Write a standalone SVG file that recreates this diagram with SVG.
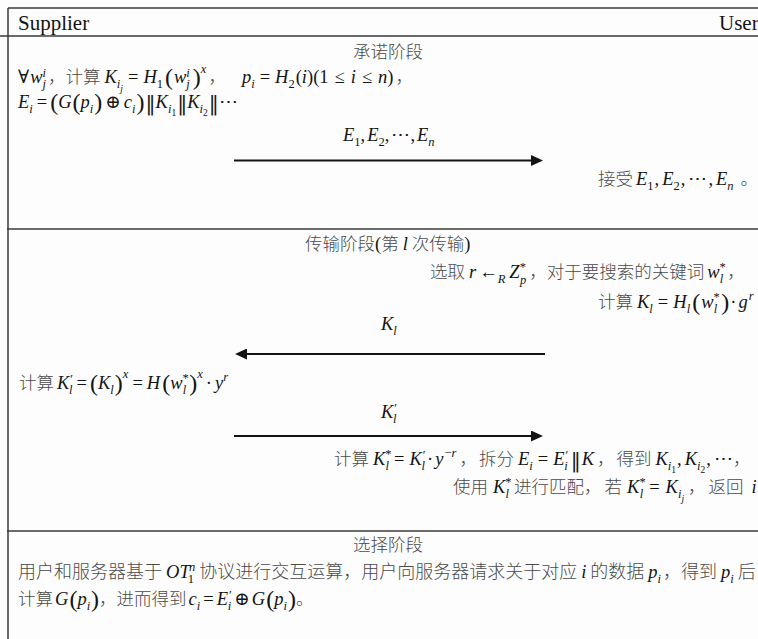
<svg xmlns="http://www.w3.org/2000/svg" width="758" height="639" viewBox="0 0 758 639">
<style>
.bg{fill:#fdfdfd}
.rule{stroke:#3a3a3a;stroke-width:1.5;fill:none}
.t{font-family:"Liberation Serif","DejaVu Serif",serif;font-size:18.5px;fill:#141414}
.zh{font-family:"Noto Sans CJK SC","Noto Sans CJK JP",sans-serif;font-size:17.5px;font-style:normal;font-weight:300;fill:#4a4a4a}
.z18{font-size:18px}
.i{font-style:italic}
.s{font-size:12.5px}
.ss{font-size:9.5px}
.bp{font-size:24px;font-style:normal}
.bar{font-family:"DejaVu Serif",serif;font-size:20px;font-style:normal}
.hd{font-family:"Liberation Serif",serif;font-size:21px;fill:#141414}
.arr{stroke:#141414;stroke-width:2;fill:none}
</style>
<defs>
<marker id="ah" markerUnits="userSpaceOnUse" markerWidth="12" markerHeight="11" refX="1" refY="5.5" orient="auto">
<path d="M0,0 L12,5.5 L0,11 z" fill="#141414"/>
</marker>
</defs>
<rect class="bg" x="0" y="0" width="758" height="639"/>
<g id="frame">
<line class="rule" x1="8" y1="8" x2="758" y2="8"/>
<line class="rule" x1="0" y1="36" x2="758" y2="36"/>
<line class="rule" x1="8" y1="8" x2="8" y2="639"/>
<line class="rule" x1="7" y1="229" x2="758" y2="229"/>
<line class="rule" x1="7" y1="531" x2="758" y2="531"/>
</g>
<g id="header">
<text class="hd" x="18" y="30">Supplier</text>
<text class="hd" x="719" y="30">User</text>
</g>
<g id="commit">
<text class="zh" x="353" y="58">承诺阶段</text>
<text class="t" x="18" y="83"><tspan>∀</tspan><tspan class="i" dx="1">w</tspan><tspan class="i s" y="77">i</tspan><tspan class="i s" dx="-3.5" y="88">j</tspan><tspan class="zh" y="83" dx="2">，计算</tspan><tspan class="i" dx="4">K</tspan><tspan class="i s" y="88">i</tspan><tspan class="i ss" y="92">j</tspan><tspan y="83" dx="5">=</tspan><tspan class="i" dx="5">H</tspan><tspan class="s" y="88">1</tspan><tspan class="bp" y="85" dx="2">(</tspan><tspan class="i" y="83" dx="1">w</tspan><tspan class="i s" y="77">i</tspan><tspan class="i s" dx="-3.5" y="88">j</tspan><tspan class="bp" y="85" dx="3">)</tspan><tspan class="i s" y="73">x</tspan><tspan class="zh" y="83" dx="2">，</tspan><tspan class="i" dx="16">p</tspan><tspan class="i s" y="88">i</tspan><tspan y="83" dx="5">=</tspan><tspan class="i" dx="5">H</tspan><tspan class="s" y="88">2</tspan><tspan y="83" dx="1">(</tspan><tspan class="i">i</tspan><tspan>)(1</tspan><tspan dx="6">≤</tspan><tspan class="i" dx="6">i</tspan><tspan dx="6">≤</tspan><tspan class="i" dx="6">n</tspan><tspan>)</tspan><tspan class="zh" dx="2">，</tspan></text>
<text class="t" x="18" y="108"><tspan class="i">E</tspan><tspan class="i s" y="113">i</tspan><tspan y="108" dx="4">=</tspan><tspan class="bp" y="110" dx="3">(</tspan><tspan class="i" y="108">G</tspan><tspan class="bp" y="110" dx="1">(</tspan><tspan class="i" y="108">p</tspan><tspan class="i s" y="113">i</tspan><tspan class="bp" y="110" dx="1">)</tspan><tspan y="108" dx="3">⊕</tspan><tspan class="i" dx="3">c</tspan><tspan class="i s" y="113">i</tspan><tspan class="bp" y="110" dx="1">)</tspan><tspan class="bar" dx="1">‖</tspan><tspan class="i" y="108">K</tspan><tspan class="i s" y="113">i</tspan><tspan class="ss" y="116">1</tspan><tspan class="bar" y="110" dx="1">‖</tspan><tspan class="i" y="108">K</tspan><tspan class="i s" y="113">i</tspan><tspan class="ss" y="116">2</tspan><tspan class="bar" y="110" dx="1">‖</tspan><tspan y="108">⋯</tspan></text>
<text class="t" x="343" y="141"><tspan class="i">E</tspan><tspan class="s" y="146">1</tspan><tspan y="141">,</tspan><tspan class="i" dx="2">E</tspan><tspan class="s" y="146">2</tspan><tspan y="141">,</tspan><tspan dx="2">⋯</tspan><tspan>,</tspan><tspan class="i" dx="2">E</tspan><tspan class="i s" y="146">n</tspan></text>
<text class="t" x="598" y="185"><tspan class="zh">接受</tspan><tspan class="i" dx="3">E</tspan><tspan class="s" y="190">1</tspan><tspan y="185" dx="1">,</tspan><tspan class="i" dx="3">E</tspan><tspan class="s" y="190">2</tspan><tspan y="185" dx="1">,</tspan><tspan dx="3">⋯</tspan><tspan dx="1">,</tspan><tspan class="i" dx="3">E</tspan><tspan class="i s" y="190">n</tspan><tspan class="zh" y="185" dx="7">。</tspan></text>
</g>
<g id="transfer">
<text class="t" x="305" y="250"><tspan class="zh">传输阶段</tspan><tspan>(</tspan><tspan class="zh">第</tspan><tspan class="i" dx="4">l</tspan><tspan class="zh" dx="4">次传输</tspan><tspan>)</tspan></text>
<text class="t" x="430" y="278"><tspan class="zh">选取</tspan><tspan class="i" dx="4">r</tspan><tspan dx="3">←</tspan><tspan class="i s" y="283">R</tspan><tspan class="i" y="278" dx="4">Z</tspan><tspan class="s" y="271">*</tspan><tspan class="i s" dx="-6" y="284">p</tspan><tspan class="zh" y="278" dx="3">，对于要搜索的关键词</tspan><tspan class="i" dx="3">w</tspan><tspan class="s" y="271">*</tspan><tspan class="i s" dx="-6" y="283">l</tspan><tspan class="zh" y="278" dx="4">，</tspan></text>
<text class="t" x="598" y="308"><tspan class="zh">计算</tspan><tspan class="i" dx="4">K</tspan><tspan class="i s" y="313">l</tspan><tspan y="308" dx="5">=</tspan><tspan class="i" dx="5">H</tspan><tspan class="i s" y="313">l</tspan><tspan class="bp" y="310" dx="2">(</tspan><tspan class="i" y="308" dx="1">w</tspan><tspan class="s" y="301">*</tspan><tspan class="i s" dx="-6" y="313">l</tspan><tspan class="bp" y="310" dx="4">)</tspan><tspan y="308" dx="1">·</tspan><tspan class="i" dx="2">g</tspan><tspan class="i s" y="300" dx="1">r</tspan></text>
<text class="t" x="381" y="330"><tspan class="i">K</tspan><tspan class="i s" y="335">l</tspan></text>
<text class="t" x="19" y="389"><tspan class="zh">计算</tspan><tspan class="i" dx="3">K</tspan><tspan class="s" y="383" dx="1">′</tspan><tspan class="i s" dx="-4" y="394">l</tspan><tspan y="389" dx="4">=</tspan><tspan class="bp" y="391" dx="3">(</tspan><tspan class="i" y="389">K</tspan><tspan class="i s" y="394">l</tspan><tspan class="bp" y="391" dx="1">)</tspan><tspan class="i s" y="378">x</tspan><tspan y="389" dx="4">=</tspan><tspan class="i" dx="4">H</tspan><tspan class="bp" y="391" dx="2">(</tspan><tspan class="i" y="389">w</tspan><tspan class="s" y="382">*</tspan><tspan class="i s" dx="-6" y="394">l</tspan><tspan class="bp" y="391" dx="3">)</tspan><tspan class="i s" y="378">x</tspan><tspan y="389" dx="3">·</tspan><tspan class="i" dx="3">y</tspan><tspan class="i s" y="381">r</tspan></text>
<text class="t" x="381" y="418"><tspan class="i">K</tspan><tspan class="s" y="412" dx="1">′</tspan><tspan class="i s" dx="-4" y="423">l</tspan></text>
<text class="t" x="334" y="465"><tspan class="zh">计算</tspan><tspan class="i" dx="4">K</tspan><tspan class="s" y="458">*</tspan><tspan class="i s" dx="-6" y="470">l</tspan><tspan y="465" dx="5">=</tspan><tspan class="i" dx="5">K</tspan><tspan class="s" y="459" dx="1">′</tspan><tspan class="i s" dx="-4" y="470">l</tspan><tspan y="465" dx="2">·</tspan><tspan class="i" dx="2">y</tspan><tspan class="s" y="457" dx="1">−</tspan><tspan class="i s">r</tspan><tspan class="zh" y="465" dx="3">，</tspan><tspan class="zh" dx="2">拆分</tspan><tspan class="i" dx="4">E</tspan><tspan class="i s" y="470">i</tspan><tspan y="465" dx="5">=</tspan><tspan class="i" dx="5">E</tspan><tspan class="s" y="459" dx="1">′</tspan><tspan class="i s" dx="-4" y="470">i</tspan><tspan class="bar" y="467" dx="3">‖</tspan><tspan class="i" y="465" dx="1">K</tspan><tspan class="zh" dx="3">，</tspan><tspan class="zh" dx="2">得到</tspan><tspan class="i" dx="4">K</tspan><tspan class="i s" y="470">i</tspan><tspan class="ss" y="473">1</tspan><tspan y="465" dx="1">,</tspan><tspan class="i" dx="3">K</tspan><tspan class="i s" y="470">i</tspan><tspan class="ss" y="473">2</tspan><tspan y="465" dx="1">,</tspan><tspan dx="3">⋯</tspan><tspan class="zh" y="465">，</tspan></text>
<text class="t" x="453" y="493"><tspan class="zh">使用</tspan><tspan class="i" dx="5">K</tspan><tspan class="s" y="486">*</tspan><tspan class="i s" dx="-6" y="498">l</tspan><tspan class="zh" y="493" dx="5">进行匹配，</tspan><tspan class="zh" dx="3">若</tspan><tspan class="i" dx="5">K</tspan><tspan class="s" y="486">*</tspan><tspan class="i s" dx="-6" y="498">l</tspan><tspan y="493" dx="6">=</tspan><tspan class="i" dx="6">K</tspan><tspan class="i s" y="498">i</tspan><tspan class="i ss" y="502">j</tspan><tspan class="zh" y="493" dx="4">，</tspan><tspan class="zh" dx="3">返回</tspan><tspan class="i" dx="8">i</tspan></text>
</g>
<g id="select">
<text class="zh" x="353" y="551">选择阶段</text>
<text class="t" x="18" y="578"><tspan class="zh z18">用户和服务器基于</tspan><tspan class="i" dx="4">O</tspan><tspan class="i">T</tspan><tspan class="s" y="583" dx="-2">1</tspan><tspan class="i s" dx="-5" y="571">n</tspan><tspan class="zh z18" y="578" dx="4">协议进行交互运算，用户向服务器请求关于对应</tspan><tspan class="i" dx="4">i</tspan><tspan class="zh z18" dx="4">的数据</tspan><tspan class="i" dx="4">p</tspan><tspan class="i s" y="583">i</tspan><tspan class="zh z18" y="578" dx="2">，得到</tspan><tspan class="i" dx="4">p</tspan><tspan class="i s" y="583">i</tspan><tspan class="zh z18" y="578" dx="4">后</tspan></text>
<text class="t" x="18" y="605"><tspan class="zh">计算</tspan><tspan class="i" dx="2">G</tspan><tspan class="bp" y="607" dx="1">(</tspan><tspan class="i" y="605">p</tspan><tspan class="i s" y="610">i</tspan><tspan class="bp" y="607" dx="1">)</tspan><tspan class="zh" y="605">，进而得到</tspan><tspan class="i" dx="2">c</tspan><tspan class="i s" y="610">i</tspan><tspan y="605" dx="3">=</tspan><tspan class="i" dx="3">E</tspan><tspan class="s" y="599" dx="1">′</tspan><tspan class="i s" dx="-4" y="610">i</tspan><tspan y="605" dx="3">⊕</tspan><tspan class="i" dx="2">G</tspan><tspan class="bp" y="607" dx="1">(</tspan><tspan class="i" y="605">p</tspan><tspan class="i s" y="610">i</tspan><tspan class="bp" y="607" dx="1">)</tspan><tspan class="zh" y="605">。</tspan></text>
</g>
<g id="connectors">
<line class="arr" x1="234" y1="160.5" x2="532" y2="160.5" marker-end="url(#ah)"/>
<line class="arr" x1="545" y1="354" x2="246" y2="354" marker-end="url(#ah)"/>
<line class="arr" x1="234" y1="436" x2="532" y2="436" marker-end="url(#ah)"/>
</g>
</svg>
